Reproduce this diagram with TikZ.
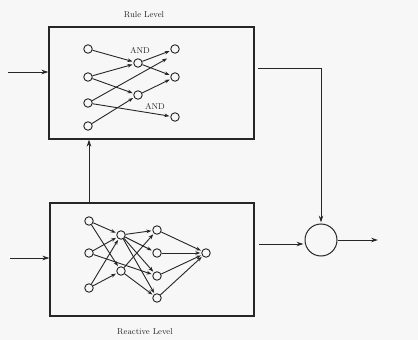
\documentclass[tikz,border=0pt]{standalone}
\usetikzlibrary{arrows.meta}
\begin{document}
\begin{tikzpicture}[x=1pt,y=-1pt,
  ink/.style={draw=black!85,line width=0.9pt},
  unit/.style={circle,ink,inner sep=0pt,minimum size=8.5pt},
  boxn/.style={draw=black!85,line width=1.1pt,rectangle,inner sep=0pt},
  arr/.style={ink,-{Stealth[length=5pt,width=3.6pt]},shorten >=1pt},
  bigarr/.style={ink,line width=1pt,-{Stealth[length=7pt,width=4.6pt]}},
  lbl/.style={font=\fontsize{8.5}{10}\selectfont,text=black!85,inner sep=1pt},
  andl/.style={font=\fontsize{8.5}{10}\selectfont,text=black!85,inner sep=0.5pt,fill=black!3}]
\fill[black!3] (0,0) rectangle (418,340);
\useasboundingbox (0,0) rectangle (418,340);

% boxes
\node[boxn,minimum width=205pt,minimum height=112pt] (rule) at (151.5,83) {};
\node[boxn,minimum width=204pt,minimum height=113pt] (react) at (152,259.5) {};
\node[lbl] (rt) at (144,15) {Rule Level};
\node[lbl] (bt) at (145,332) {Reactive Level};

% top network
\node[unit] (a1) at (88,49) {};
\node[unit] (a2) at (88,77) {};
\node[unit] (a3) at (88,103) {};
\node[unit] (a4) at (88,126) {};
\node[unit] (b1) at (138,63) {};
\node[unit] (b2) at (138,95) {};
\node[unit] (c1) at (175,49) {};
\node[unit] (c2) at (175,77) {};
\node[unit] (c3) at (175,117) {};
\coordinate (x1) at (168,58);
\node[andl] (and1) at (140,50) {AND};
\node[andl] (and2) at (155,106) {AND};
\draw[arr] (a1) -- (b1);
\draw[arr] (a2) -- (b1);
\draw[arr] (a2) -- (b2);
\draw[arr] (a3) -- (x1);
\draw[arr] (a3) -- (c3);
\draw[arr] (a4) -- (b2);
\draw[arr] (b1) -- (c1);
\draw[arr] (b1) -- (c2);
\draw[arr] (b2) -- (c2);

% bottom network
\node[unit] (p1) at (89,221) {};
\node[unit] (p2) at (89,253) {};
\node[unit] (p3) at (89,288) {};
\node[unit] (q1) at (121,235) {};
\node[unit] (q2) at (121,271) {};
\node[unit] (r1) at (157,230) {};
\node[unit] (r2) at (157,253) {};
\node[unit] (r3) at (157,276) {};
\node[unit] (r4) at (157,298) {};
\node[unit] (o) at (206,253) {};
\draw[arr] (p1) -- (q1);
\draw[arr] (p1) -- (q2);
\draw[arr] (p2) -- (q1);
\draw[arr] (p2) -- (r3);
\draw[arr] (p3) -- (q2);
\draw[arr] (p3) -- (q1);
\draw[arr] (q1) -- (r1);
\draw[arr] (q1) -- (r2);
\draw[arr] (q1) -- (r3);
\draw[arr] (q1) -- (r4);
\draw[arr] (q2) -- (r1);
\draw[arr] (q2) -- (r4);
\draw[arr] (r1) -- (o);
\draw[arr] (r2) -- (o);
\draw[arr] (r3) -- (o);
\draw[arr] (r4) -- (o);

% outer connectors
\node[circle,ink,line width=1pt,minimum size=32pt,inner sep=0pt] (sum) at (321,240) {};
\coordinate (in1) at (8,72);
\coordinate (in2) at (10,258);
\coordinate (vx) at (89,0);
\coordinate (ts) at (258,68);
\coordinate (bs) at (259,244);
\coordinate (out) at (378,240);
\draw[bigarr] (in1) -- (in1 -| rule.west);
\draw[bigarr] (in2) -- (in2 -| react.west);
\draw[bigarr] (react.north -| vx) -- (rule.south -| vx);
\draw[bigarr,shorten >=1pt] (ts) -| (sum);
\draw[bigarr,shorten >=1pt] (bs) -- (bs -| sum.west);
\draw[bigarr] (sum) -- (out);
\end{tikzpicture}
\end{document}
